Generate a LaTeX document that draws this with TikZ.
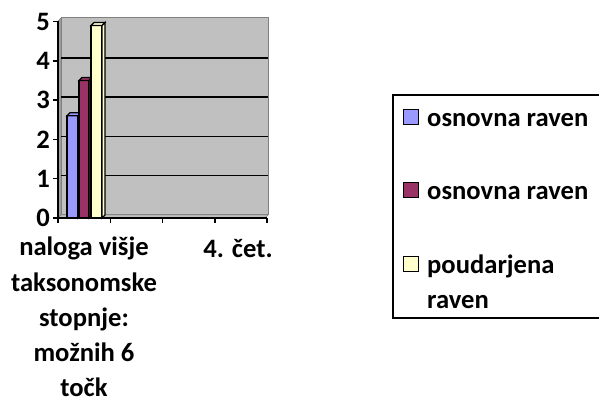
\documentclass[tikz,border=0pt]{standalone}
\usepackage{fontspec}
\setmainfont{Carlito}
\usetikzlibrary{positioning}
\definecolor{wallgray}{HTML}{C0C0C0}
\definecolor{edgegray}{HTML}{808080}
\definecolor{sidegray}{HTML}{A0A0A0}
\definecolor{barblue}{HTML}{9999FF}
\definecolor{barplum}{HTML}{993366}
\definecolor{baryellow}{HTML}{FFFFCC}
\tikzset{
	lbl/.style={font=\fontsize{26.6}{35.2}\selectfont\bfseries, inner sep=0pt},
	axisline/.style={line width=1.5pt, black},
	gridline/.style={line width=1.6pt, black},
	barline/.style={line width=1.2pt, black},
	keybox/.style={draw=black, line width=1.2pt, minimum size=15pt, inner sep=0pt}
}
\begin{document}
\begin{tikzpicture}[x=1pt,y=-1pt]
				\useasboundingbox (0,0) rectangle (599,403);
				
				% Walls
				\filldraw[fill=sidegray, draw=edgegray] (58,21) -- (61,18) -- (61,215) -- (58,218) -- cycle;
				\filldraw[fill=wallgray, draw=edgegray, line width=1pt] (61,18) rectangle (268,215);
				\filldraw[fill=wallgray, draw=edgegray] (58,218) -- (61,215) -- (268,215) -- (265,218) -- cycle;
				
				% Grid
				\foreach \v in {1,...,4} {
					\draw [gridline] (61,{215-39.3*\v}) -- (268,{215-39.3*\v});
				}
				
				% Axes
				\draw [axisline] (58,218) -- (58,21.5);
				\draw [axisline] (58,218) -- (267,218);
				\foreach \v [evaluate=\v as \yy using 218-39.3*\v] in {0,...,5} {
					\draw [axisline] (53,\yy) -- (58,\yy);
					\node [lbl, anchor=east] (y\v) at (50,\yy) {\v};
				}
				\foreach \i [evaluate=\i as \xx using 58+52.25*\i] in {0,...,4} {
					\draw [axisline] (\xx,218) -- (\xx,223);
				}
				
				% Bars
				\foreach \xa/\xb/\val/\col in {67/78/2.6/barblue, 79/89/3.5/barplum, 91/102/4.9/baryellow} {
					\pgfmathsetmacro{\tp}{218-39.3*\val}
					\filldraw [barline, fill=\col] (\xa,218) rectangle (\xb,\tp);
					\filldraw [barline, fill=\col] (\xb,218) -- (\xb+3,215) -- (\xb+3,\tp-3) -- (\xb,\tp) -- cycle;
					\filldraw [barline, fill=\col] (\xa,\tp) -- (\xa+3,\tp-3) -- (\xb+3,\tp-3) -- (\xb,\tp) -- cycle;
				}
				
				% Category labels
				\node [lbl, align=center, anchor=north] (cat1) at (84,237) {naloga višje\\taksonomske\\stopnje:\\možnih 6\\točk};
				\node [lbl, anchor=base] (cat4) at (238,257) {4. čet.};
				
				% Legend
				\draw [line width=1.5pt] (393,95) rectangle (601,318);
				\node [keybox, fill=barblue] (k1) at (411,117) {};
				\node [lbl, anchor=base west] (t1) at (427,127) {osnovna raven};
				\node [keybox, fill=barplum] (k2) at (411,190) {};
				\node [lbl, anchor=base west] (t2) at (427,200) {osnovna raven};
				\node [keybox, fill=baryellow] (k3) at (411,264) {};
				\node [lbl, anchor=base west] (t3) at (427,273) {poudarjena};
				\node [lbl, anchor=base west] (t3b) at (427,308) {raven};
\end{tikzpicture}
\end{document}
